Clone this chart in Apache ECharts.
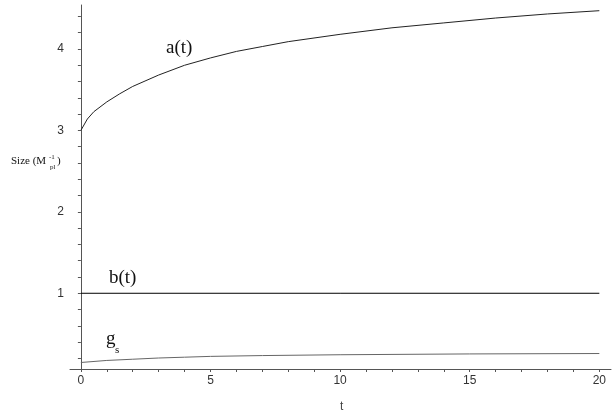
<!DOCTYPE html>
<html>
<head>
<meta charset="utf-8">
<script src="https://cdn.jsdelivr.net/npm/echarts@6/dist/echarts.min.js"></script>
<style>
html,body{margin:0;padding:0;background:#fff;}
#chart{width:614px;height:415px;}
</style>
</head>
<body>
<div id="chart"></div>
<script>
// ---- data ----
const tA = [0, 0.25, 0.5, 1, 1.5, 2, 3, 4, 5, 6, 7, 8, 10, 12, 14, 16, 18, 20];
const aVals = [3.00, 3.14, 3.23, 3.35, 3.45, 3.54, 3.68, 3.80, 3.89, 3.97, 4.03, 4.09, 4.18, 4.26, 4.32, 4.38, 4.43, 4.47];
const tB = [0, 20];
const bVals = [1, 1];
const tG = [0, 1, 2, 3, 4, 5, 7, 10, 15, 20];
const gVals = [0.15, 0.175, 0.19, 0.205, 0.215, 0.225, 0.235, 0.245, 0.255, 0.26];
const xTicks = [0,1,2,3,4,5,6,7,8,9,10,11,12,13,14,15,16,17,18,19,20];
const xTickLabels = [0, 5, 10, 15, 20];
const yTicks = [0.2,0.4,0.6,0.8,1,1.2,1.4,1.6,1.8,2,2.2,2.4,2.6,2.8,3,3.2,3.4,3.6,3.8,4,4.2,4.4];
const yTickLabels = [1, 2, 3, 4];

const zip = (xs, ys) => xs.map((x, i) => [x, ys[i]]);

const chart = echarts.init(document.getElementById('chart'), null, {renderer: 'canvas'});
const axisColor = '#555';
const serif = '"Liberation Serif", "DejaVu Serif", serif';
const sans = '"Liberation Sans", Arial, sans-serif';

chart.setOption({
  animation: false,
  backgroundColor: '#fff',
  grid: {left: 70, right: 3, top: 5, bottom: 46, containLabel: false},
  xAxis: {
    type: 'value', min: -0.42, max: 20.45,
    axisLine: {show: true, onZero: false, lineStyle: {color: axisColor, width: 1}},
    axisTick: {show: true, length: 3, customValues: xTicks, lineStyle: {color: axisColor}},
    axisLabel: {show: true, customValues: xTickLabels, margin: 6, color: '#333', fontFamily: sans, fontSize: 12},
    splitLine: {show: false}
  },
  yAxis: {
    type: 'value', min: 0.07, max: 4.54,
    axisLine: {show: true, onZero: true, lineStyle: {color: axisColor, width: 1}},
    axisTick: {show: true, length: 3, customValues: yTicks, lineStyle: {color: axisColor}},
    axisLabel: {show: true, customValues: yTickLabels, margin: 6, color: '#333', fontFamily: sans, fontSize: 12},
    splitLine: {show: false}
  },
  series: [
    {type: 'line', data: zip(tA, aVals), smooth: false, showSymbol: false,
     lineStyle: {color: '#222', width: 1}},
    {type: 'line', data: zip(tB, bVals), showSymbol: false,
     lineStyle: {color: '#000', width: 1}},
    {type: 'line', data: zip(tG, gVals), smooth: false, showSymbol: false,
     lineStyle: {color: '#666', width: 1}}
  ],
  graphic: [
    {type: 'text', left: 166, top: 39, style: {text: 'a(t)', font: '19px ' + serif, fill: '#111'}},
    {type: 'text', left: 109, top: 269, style: {text: 'b(t)', font: '19px ' + serif, fill: '#111'}},
    {type: 'text', left: 106, top: 330, style: {text: 'g', font: '19px ' + serif, fill: '#111'}},
    {type: 'text', left: 115, top: 345, style: {text: 's', font: '11px ' + serif, fill: '#111'}},
    {type: 'text', left: 11, top: 156, style: {text: 'Size (M', font: '11px ' + serif, fill: '#111'}},
    {type: 'text', left: 49, top: 154, style: {text: '-1', font: '7px ' + serif, fill: '#111'}},
    {type: 'text', left: 50, top: 164, style: {text: 'pl', font: '7px ' + serif, fill: '#111'}},
    {type: 'text', left: 57, top: 156, style: {text: ')', font: '11px ' + serif, fill: '#111'}},
    {type: 'text', left: 340, top: 401, style: {text: 't', font: '12px ' + sans, fill: '#444'}}
  ]
});
</script>
</body>
</html>
